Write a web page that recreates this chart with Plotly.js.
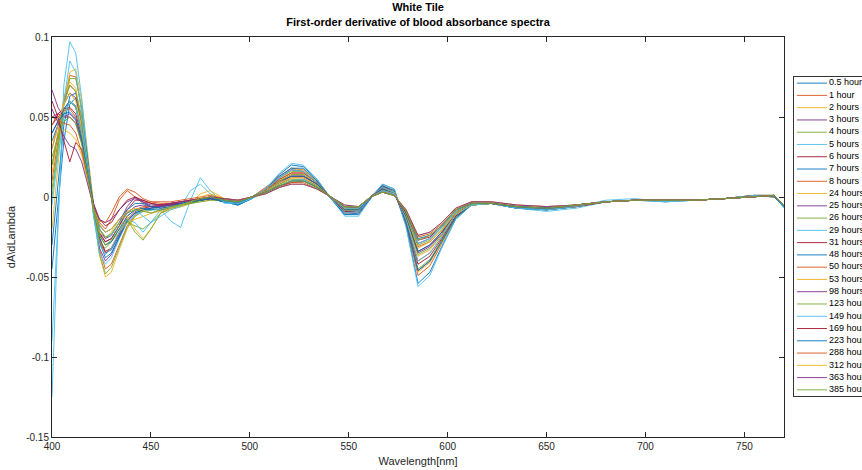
<!DOCTYPE html>
<html>
<head>
<meta charset="utf-8">
<script src="https://cdn.plot.ly/plotly-3.0.1.min.js"></script>
<style>html,body{margin:0;padding:0;background:#fff;}#chart{width:862px;height:470px;}</style>
</head>
<body>
<div id="chart"></div>
<script>
// Wavelength grid [nm]
const wavelengths = [400,403,406,409,412,415,418,421,424,427,430,434,438,442,446,450,455,460,465,470,475,480,487,494,501,508,515,521,527,534,541,548,555,561,567,573,579,585,591,597,604,612,622,635,650,665,680,695,710,725,740,755,765,770];

// Legend labels
const seriesLabels = ["0.5 hours","1 hour","2 hours","3 hours","4 hours","5 hours","6 hours","7 hours","8 hours","24 hours","25 hours","26 hours","29 hours","31 hours","48 hours","50 hours","53 hours","98 hours","123 hours","149 hours","169 hours","223 hours","288 hours","312 hours","363 hours","385 hours"];

// Tick labels
const yTickVals = [0.1, 0.05, 0, -0.05, -0.1, -0.15];
const yTickText = ["0.1", "0.05", "0", "-0.05", "-0.1", "-0.15"];
const xTickVals = [400, 450, 500, 550, 600, 650, 700, 750];

// First-order derivative dA/dLambda, one array per time point
const d_0_5h = [-0.045,-0.005,0.035,0.058,0.062,0.048,0.022,-0.005,-0.025,-0.035,-0.033,-0.024,-0.015,-0.010,-0.008,-0.008,-0.006,-0.005,-0.004,-0.003,-0.002,-0.001,-0.003,-0.005,-0.001,0.005,0.014,0.020,0.019,0.011,-0.001,-0.011,-0.011,-0.001,0.008,0.005,-0.018,-0.054,-0.047,-0.031,-0.014,-0.005,-0.004,-0.007,-0.008,-0.006,-0.003,-0.002,-0.003,-0.002,-0.001,0.001,0.001,-0.006];
const d_1h = [0.010,0.035,0.060,0.076,0.075,0.055,0.025,-0.008,-0.033,-0.045,-0.042,-0.030,-0.018,-0.011,-0.008,-0.007,-0.005,-0.005,-0.004,-0.003,-0.002,-0.001,-0.003,-0.004,0.000,0.006,0.013,0.018,0.017,0.010,-0.001,-0.010,-0.010,-0.001,0.007,0.004,-0.017,-0.049,-0.043,-0.029,-0.013,-0.005,-0.004,-0.007,-0.008,-0.006,-0.003,-0.002,-0.002,-0.002,-0.001,0.001,0.000,-0.006];
const d_2h = [-0.020,0.020,0.058,0.078,0.080,0.060,0.028,-0.008,-0.036,-0.050,-0.047,-0.033,-0.020,-0.012,-0.009,-0.008,-0.006,-0.005,-0.004,-0.003,-0.002,-0.001,-0.002,-0.004,0.000,0.005,0.012,0.017,0.017,0.010,-0.001,-0.010,-0.009,0.000,0.007,0.004,-0.016,-0.047,-0.041,-0.029,-0.013,-0.005,-0.004,-0.007,-0.008,-0.006,-0.003,-0.002,-0.002,-0.002,-0.001,0.001,0.001,-0.005];
const d_3h = [0.030,0.045,0.058,0.065,0.062,0.046,0.020,-0.010,-0.032,-0.040,-0.036,-0.025,-0.015,-0.010,-0.008,-0.007,-0.006,-0.005,-0.004,-0.003,-0.002,-0.001,-0.002,-0.004,0.000,0.005,0.012,0.017,0.016,0.009,-0.001,-0.010,-0.009,0.000,0.007,0.003,-0.017,-0.046,-0.040,-0.027,-0.012,-0.005,-0.004,-0.007,-0.008,-0.006,-0.003,-0.002,-0.002,-0.002,-0.001,0.000,0.001,-0.006];
const d_4h = [0.000,0.030,0.058,0.074,0.074,0.056,0.025,-0.010,-0.036,-0.048,-0.044,-0.031,-0.019,-0.012,-0.009,-0.008,-0.006,-0.005,-0.004,-0.003,-0.002,-0.001,-0.003,-0.004,0.000,0.005,0.012,0.016,0.016,0.009,-0.001,-0.009,-0.009,0.000,0.006,0.003,-0.016,-0.045,-0.039,-0.027,-0.012,-0.005,-0.004,-0.007,-0.008,-0.006,-0.003,-0.002,-0.002,-0.002,-0.001,0.001,0.000,-0.006];
const d_5h = [-0.125,-0.020,0.070,0.097,0.090,0.062,0.025,-0.012,-0.035,-0.042,-0.038,-0.026,-0.016,-0.011,-0.009,-0.008,-0.006,-0.005,-0.004,-0.003,-0.002,-0.001,-0.003,-0.005,-0.001,0.005,0.015,0.021,0.020,0.011,-0.001,-0.012,-0.012,-0.001,0.008,0.005,-0.019,-0.056,-0.049,-0.032,-0.014,-0.005,-0.004,-0.007,-0.009,-0.007,-0.003,-0.002,-0.003,-0.002,-0.001,0.001,0.001,-0.007];
const d_6h = [0.045,0.052,0.055,0.056,0.052,0.038,0.016,-0.008,-0.026,-0.034,-0.032,-0.023,-0.014,-0.009,-0.007,-0.006,-0.005,-0.004,-0.004,-0.003,-0.002,-0.001,-0.002,-0.004,0.000,0.004,0.011,0.015,0.015,0.009,-0.001,-0.009,-0.009,0.000,0.006,0.003,-0.015,-0.042,-0.037,-0.026,-0.012,-0.005,-0.004,-0.006,-0.007,-0.006,-0.003,-0.002,-0.002,-0.002,-0.001,0.000,0.001,-0.005];
const d_7h = [-0.030,0.010,0.045,0.063,0.065,0.050,0.024,-0.006,-0.028,-0.038,-0.035,-0.025,-0.015,-0.010,-0.008,-0.007,-0.006,-0.005,-0.004,-0.003,-0.002,-0.001,-0.003,-0.005,-0.001,0.005,0.013,0.018,0.018,0.010,-0.001,-0.011,-0.010,-0.001,0.007,0.004,-0.016,-0.046,-0.040,-0.028,-0.013,-0.005,-0.004,-0.007,-0.008,-0.006,-0.003,-0.002,-0.002,-0.002,-0.001,0.001,0.000,-0.006];
const d_8h = [0.020,0.040,0.060,0.070,0.066,0.048,0.020,-0.008,-0.028,-0.035,-0.032,-0.022,-0.012,-0.008,-0.006,-0.006,-0.005,-0.004,-0.003,-0.002,-0.002,-0.001,-0.002,-0.003,0.000,0.005,0.011,0.015,0.015,0.009,0.000,-0.008,-0.008,0.000,0.006,0.003,-0.014,-0.040,-0.035,-0.025,-0.011,-0.004,-0.004,-0.006,-0.007,-0.006,-0.003,-0.002,-0.002,-0.002,-0.001,0.001,0.001,-0.005];
const d_24h = [0.015,0.038,0.062,0.072,0.068,0.048,0.020,-0.006,-0.024,-0.030,-0.028,-0.022,-0.016,-0.014,-0.012,-0.010,-0.008,-0.007,-0.006,-0.004,-0.003,-0.002,-0.002,-0.003,0.000,0.004,0.010,0.014,0.014,0.008,0.000,-0.008,-0.008,0.000,0.005,0.003,-0.013,-0.037,-0.033,-0.024,-0.011,-0.005,-0.004,-0.006,-0.007,-0.005,-0.003,-0.002,-0.002,-0.002,-0.001,0.000,0.001,-0.005];
const d_25h = [0.040,0.048,0.055,0.060,0.056,0.040,0.016,-0.007,-0.022,-0.028,-0.026,-0.018,-0.010,-0.006,-0.005,-0.006,-0.007,-0.006,-0.005,-0.003,-0.002,-0.001,-0.002,-0.003,0.000,0.004,0.010,0.013,0.013,0.008,0.000,-0.008,-0.008,0.000,0.005,0.002,-0.012,-0.035,-0.031,-0.023,-0.010,-0.004,-0.004,-0.006,-0.007,-0.005,-0.003,-0.002,-0.002,-0.002,-0.001,0.000,0.001,-0.005];
const d_26h = [0.005,0.032,0.058,0.070,0.066,0.046,0.018,-0.010,-0.028,-0.032,-0.028,-0.020,-0.016,-0.018,-0.020,-0.016,-0.010,-0.007,-0.006,-0.004,-0.003,-0.002,-0.002,-0.003,0.000,0.004,0.010,0.014,0.014,0.008,0.000,-0.008,-0.008,0.000,0.005,0.003,-0.013,-0.036,-0.032,-0.024,-0.011,-0.005,-0.004,-0.006,-0.007,-0.005,-0.003,-0.002,-0.002,-0.002,-0.001,0.000,0.001,-0.005];
const d_29h = [-0.090,-0.010,0.060,0.085,0.078,0.052,0.018,-0.012,-0.030,-0.036,-0.032,-0.022,-0.014,-0.016,-0.022,-0.016,-0.008,-0.015,-0.019,-0.002,0.012,0.004,-0.004,-0.004,0.000,0.005,0.012,0.017,0.016,0.009,-0.001,-0.010,-0.009,0.000,0.006,0.003,-0.014,-0.040,-0.035,-0.025,-0.011,-0.005,-0.004,-0.007,-0.008,-0.006,-0.002,-0.001,-0.003,-0.002,-0.001,0.001,0.001,-0.006];
const d_31h = [0.050,0.052,0.050,0.050,0.046,0.034,0.014,-0.008,-0.023,-0.028,-0.026,-0.018,-0.008,-0.002,-0.002,-0.004,-0.005,-0.005,-0.004,-0.003,-0.002,-0.001,-0.002,-0.003,0.000,0.004,0.009,0.013,0.013,0.008,0.000,-0.007,-0.007,0.000,0.005,0.002,-0.012,-0.034,-0.030,-0.022,-0.010,-0.004,-0.004,-0.006,-0.007,-0.005,-0.003,-0.002,-0.002,-0.002,-0.001,0.000,0.001,-0.005];
const d_48h = [0.035,0.045,0.055,0.060,0.057,0.042,0.018,-0.006,-0.024,-0.030,-0.028,-0.020,-0.012,-0.008,-0.007,-0.008,-0.008,-0.007,-0.005,-0.004,-0.002,-0.001,-0.003,-0.004,0.000,0.004,0.009,0.013,0.013,0.008,0.000,-0.008,-0.008,0.000,0.005,0.002,-0.012,-0.034,-0.030,-0.022,-0.010,-0.004,-0.004,-0.006,-0.007,-0.005,-0.003,-0.002,-0.002,-0.002,-0.001,0.000,0.001,-0.005];
const d_50h = [0.045,0.050,0.054,0.055,0.050,0.036,0.015,-0.005,-0.016,-0.020,-0.014,-0.002,0.004,0.000,-0.004,-0.003,-0.004,-0.004,-0.003,-0.002,-0.001,0.000,-0.001,-0.003,0.000,0.003,0.008,0.012,0.012,0.007,0.000,-0.007,-0.007,0.000,0.004,0.002,-0.011,-0.031,-0.028,-0.021,-0.010,-0.004,-0.004,-0.006,-0.007,-0.005,-0.003,-0.002,-0.002,-0.002,-0.001,0.000,0.001,-0.005];
const d_53h = [0.030,0.045,0.058,0.065,0.060,0.042,0.016,-0.008,-0.022,-0.026,-0.022,-0.014,-0.012,-0.020,-0.026,-0.020,-0.010,-0.008,-0.006,-0.004,0.002,0.004,-0.001,-0.003,0.000,0.004,0.009,0.012,0.012,0.007,0.000,-0.007,-0.007,0.000,0.004,0.002,-0.011,-0.032,-0.028,-0.021,-0.010,-0.004,-0.004,-0.006,-0.007,-0.005,-0.003,-0.002,-0.002,-0.002,-0.001,0.000,0.001,-0.005];
const d_98h = [0.067,0.056,0.050,0.052,0.048,0.035,0.014,-0.006,-0.020,-0.026,-0.024,-0.016,-0.006,0.000,-0.003,-0.006,-0.006,-0.005,-0.004,-0.003,-0.002,-0.001,-0.002,-0.003,0.000,0.003,0.007,0.010,0.011,0.006,0.000,-0.006,-0.007,0.000,0.004,0.002,-0.010,-0.029,-0.026,-0.019,-0.009,-0.004,-0.004,-0.006,-0.007,-0.005,-0.003,-0.002,-0.002,-0.002,-0.001,0.000,0.001,-0.005];
const d_123h = [0.020,0.038,0.052,0.060,0.056,0.040,0.016,-0.008,-0.024,-0.030,-0.027,-0.018,-0.014,-0.022,-0.027,-0.020,-0.010,-0.007,-0.005,-0.004,-0.002,0.000,-0.002,-0.003,0.000,0.003,0.008,0.011,0.011,0.007,0.000,-0.007,-0.007,0.000,0.004,0.002,-0.011,-0.030,-0.027,-0.020,-0.009,-0.004,-0.004,-0.006,-0.007,-0.005,-0.003,-0.002,-0.002,-0.002,-0.001,0.000,0.001,-0.005];
const d_149h = [-0.005,0.025,0.050,0.060,0.056,0.040,0.016,-0.006,-0.020,-0.025,-0.024,-0.016,-0.010,-0.008,-0.012,-0.016,-0.012,-0.008,-0.006,0.004,0.008,0.002,-0.003,-0.004,-0.001,0.003,0.007,0.010,0.011,0.006,0.000,-0.007,-0.007,0.000,0.004,0.002,-0.010,-0.029,-0.026,-0.019,-0.009,-0.004,-0.004,-0.006,-0.007,-0.005,-0.003,-0.002,-0.002,-0.002,-0.001,0.000,0.001,-0.005];
const d_169h = [0.060,0.050,0.035,0.022,0.034,0.030,0.012,-0.004,-0.014,-0.018,-0.016,-0.008,-0.002,0.000,-0.002,-0.004,-0.005,-0.004,-0.003,-0.002,-0.001,0.000,-0.001,-0.002,0.000,0.003,0.007,0.009,0.010,0.006,0.000,-0.006,-0.006,0.000,0.003,0.001,-0.010,-0.027,-0.025,-0.018,-0.008,-0.004,-0.004,-0.006,-0.007,-0.005,-0.003,-0.002,-0.002,-0.002,-0.001,0.000,0.001,-0.005];
const d_223h = [0.040,0.047,0.052,0.053,0.049,0.036,0.015,-0.005,-0.018,-0.022,-0.020,-0.014,-0.008,-0.004,-0.004,-0.006,-0.007,-0.006,-0.004,-0.003,-0.002,-0.001,-0.002,-0.003,0.000,0.003,0.007,0.010,0.010,0.006,0.000,-0.006,-0.006,0.000,0.003,0.001,-0.009,-0.026,-0.024,-0.018,-0.008,-0.004,-0.004,-0.006,-0.007,-0.005,-0.003,-0.002,-0.002,-0.002,-0.001,0.000,0.001,-0.005];
const d_288h = [0.050,0.048,0.046,0.045,0.040,0.028,0.010,-0.006,-0.015,-0.016,-0.010,0.000,0.005,0.003,-0.001,-0.003,-0.003,-0.003,-0.002,-0.001,0.000,0.001,-0.001,-0.002,0.000,0.002,0.006,0.009,0.009,0.005,0.000,-0.006,-0.006,0.000,0.003,0.001,-0.009,-0.025,-0.023,-0.017,-0.008,-0.003,-0.003,-0.005,-0.006,-0.005,-0.003,-0.002,-0.002,-0.002,-0.001,0.000,0.001,-0.005];
const d_312h = [0.035,0.040,0.042,0.040,0.036,0.026,0.010,-0.006,-0.017,-0.022,-0.020,-0.014,-0.009,-0.007,-0.008,-0.010,-0.009,-0.007,-0.005,-0.003,0.000,0.002,-0.001,-0.002,0.000,0.002,0.006,0.008,0.008,0.005,0.000,-0.005,-0.006,0.000,0.003,0.001,-0.008,-0.024,-0.022,-0.016,-0.007,-0.003,-0.003,-0.005,-0.006,-0.005,-0.003,-0.002,-0.002,-0.002,-0.001,0.000,0.001,-0.005];
const d_363h = [0.055,0.046,0.038,0.032,0.030,0.022,0.008,-0.006,-0.014,-0.016,-0.014,-0.008,-0.003,-0.001,-0.003,-0.005,-0.005,-0.004,-0.003,-0.002,-0.001,0.000,-0.001,-0.002,0.000,0.002,0.006,0.008,0.008,0.005,0.000,-0.005,-0.006,0.000,0.003,0.001,-0.008,-0.024,-0.022,-0.016,-0.007,-0.003,-0.003,-0.005,-0.006,-0.005,-0.003,-0.002,-0.002,-0.002,-0.001,0.000,0.001,-0.005];
const d_385h = [0.025,0.038,0.047,0.050,0.046,0.033,0.013,-0.007,-0.020,-0.025,-0.023,-0.016,-0.010,-0.008,-0.009,-0.010,-0.008,-0.006,-0.005,-0.003,-0.001,0.000,-0.002,-0.003,0.000,0.003,0.007,0.010,0.010,0.006,0.000,-0.006,-0.006,0.000,0.003,0.001,-0.009,-0.027,-0.024,-0.018,-0.008,-0.004,-0.004,-0.006,-0.007,-0.005,-0.003,-0.002,-0.002,-0.002,-0.001,0.000,0.001,-0.005];

const seriesValues = [d_0_5h,d_1h,d_2h,d_3h,d_4h,d_5h,d_6h,d_7h,d_8h,d_24h,d_25h,d_26h,d_29h,d_31h,d_48h,d_50h,d_53h,d_98h,d_123h,d_149h,d_169h,d_223h,d_288h,d_312h,d_363h,d_385h];

// MATLAB default colour order
const colorOrder = ['#0072BD','#D95319','#EDB120','#7E2F8E','#77AC30','#4DBEEE','#A2142F'];

const FONT = 'Liberation Sans, Arial, Helvetica, sans-serif';
const AXC = '#262626';

const traces = [];
seriesValues.forEach(function (vals, i) {
  traces.push({
    type: 'scatter', mode: 'lines', x: wavelengths, y: vals, name: seriesLabels[i],
    line: {color: colorOrder[i % 7], width: 0.9}, showlegend: false, hoverinfo: 'skip',
    xaxis: 'x', yaxis: 'y'
  });
});
// Legend built on a secondary axis pair (MATLAB-style box, one row per series)
seriesLabels.forEach(function (lab, i) {
  traces.push({
    type: 'scatter', mode: 'lines', x: [3, 33], y: [i, i],
    line: {color: colorOrder[i % 7], width: 0.9}, showlegend: false, hoverinfo: 'skip',
    xaxis: 'x2', yaxis: 'y2'
  });
});
traces.push({
  type: 'scatter', mode: 'text', x: seriesLabels.map(function () { return 35; }),
  y: seriesLabels.map(function (l, i) { return i; }), text: seriesLabels,
  textposition: 'middle right', textfont: {family: FONT, size: 9, color: '#000'},
  cliponaxis: false, showlegend: false, hoverinfo: 'skip', xaxis: 'x2', yaxis: 'y2'
});

const layout = {
  width: 862, height: 470,
  margin: {l: 52, r: 0, t: 37, b: 33, autoexpand: false},
  paper_bgcolor: '#fff', plot_bgcolor: '#fff',
  font: {family: FONT, color: AXC},
  hovermode: false, showlegend: false,
  title: {
    text: 'White Tile<br>First-order derivative of blood absorbance spectra',
    font: {family: FONT, size: 11, color: '#000', weight: 'bold'},
    xref: 'paper', x: 0.4519, xanchor: 'center',
    yref: 'container', y: 0.976, yanchor: 'top'
  },
  xaxis: {
    domain: [0, 0.9037], range: [400, 770], tickvals: xTickVals,
    ticks: 'inside', ticklen: 5, tickcolor: AXC, showline: true, linecolor: AXC, linewidth: 1,
    mirror: 'ticks', showgrid: false, zeroline: false,
    tickfont: {family: FONT, size: 10, color: AXC},
    title: {text: 'Wavelength[nm]', font: {family: FONT, size: 11, color: AXC}, standoff: 6}
  },
  yaxis: {
    domain: [0, 1], range: [-0.15, 0.1], tickvals: yTickVals, ticktext: yTickText,
    ticks: 'inside', ticklen: 5, tickcolor: AXC, showline: true, linecolor: AXC, linewidth: 1,
    mirror: 'ticks', showgrid: false, zeroline: false,
    tickfont: {family: FONT, size: 10, color: AXC},
    title: {text: 'dA\\dLambda', font: {family: FONT, size: 11, color: AXC}, standoff: 8}
  },
  xaxis2: {
    domain: [0.916, 1], range: [0, 68], anchor: 'y2',
    showline: true, mirror: true, linecolor: '#333', linewidth: 1,
    showticklabels: false, ticks: '', showgrid: false, zeroline: false, fixedrange: true
  },
  yaxis2: {
    domain: [0.1025, 0.9], range: [25.5, -0.5], anchor: 'x2',
    showline: true, mirror: false, linecolor: '#333', linewidth: 1,
    showticklabels: false, ticks: '', showgrid: false, zeroline: false, fixedrange: true
  }
};

Plotly.newPlot('chart', traces, layout, {staticPlot: true, displayModeBar: false});
</script>
</body>
</html>
